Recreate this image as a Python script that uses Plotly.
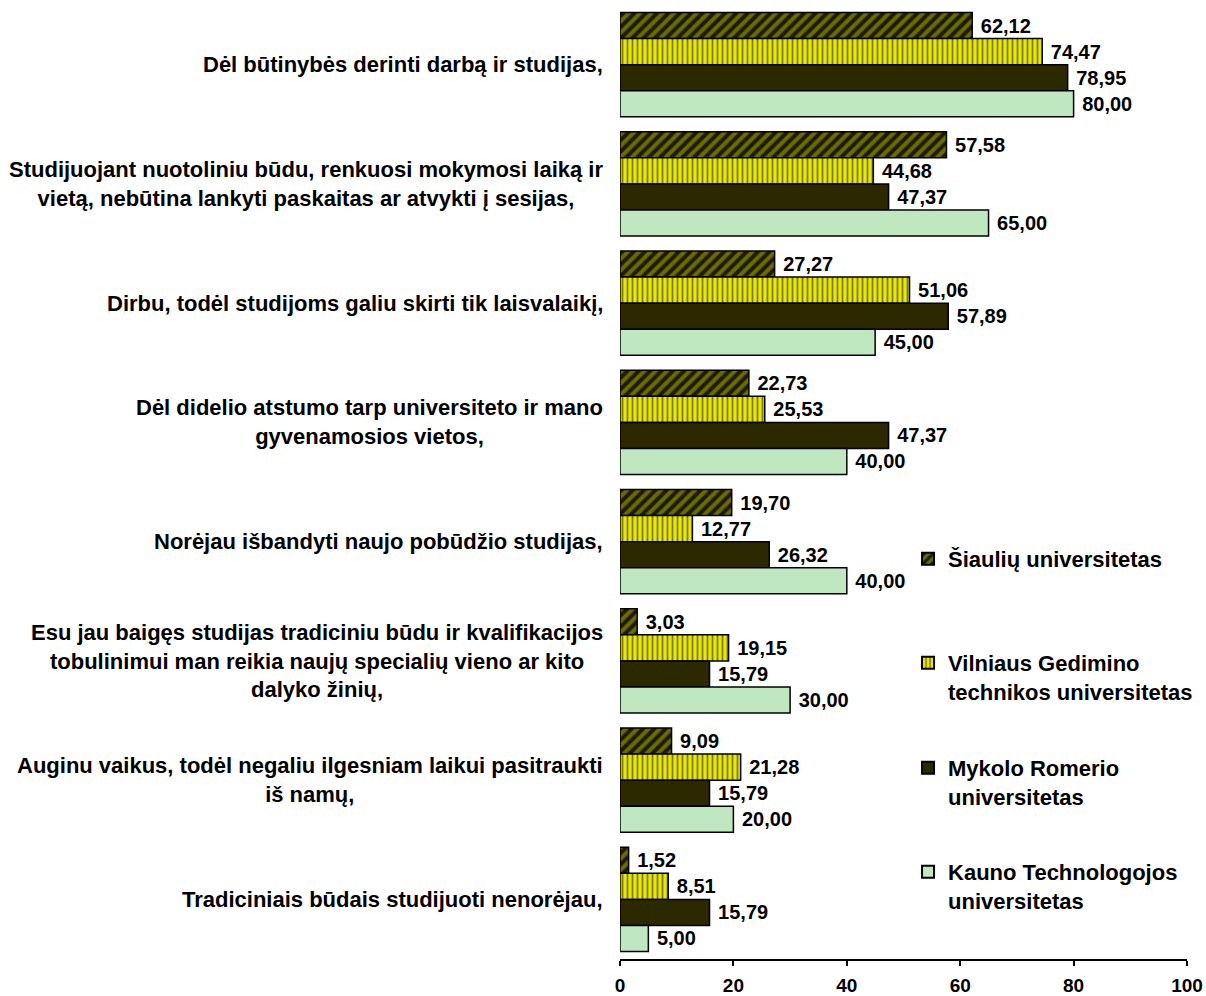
import plotly.graph_objects as go

# Reasons for choosing distance studies, by university (%)
categories = [
    "Dėl būtinybės derinti darbą ir studijas,",
    "Studijuojant nuotoliniu būdu, renkuosi mokymosi laiką ir<br>vietą, nebūtina lankyti paskaitas ar atvykti į sesijas,",
    "Dirbu, todėl studijoms galiu skirti tik laisvalaikį,",
    "Dėl didelio atstumo tarp universiteto ir mano<br>gyvenamosios vietos,",
    "Norėjau išbandyti naujo pobūdžio studijas,",
    "Esu jau baigęs studijas tradiciniu būdu ir kvalifikacijos<br>tobulinimui man reikia naujų specialių vieno ar kito<br>dalyko žinių,",
    "Auginu vaikus, todėl negaliu ilgesniam laikui pasitraukti<br>iš namų,",
    "Tradiciniais būdais studijuoti nenorėjau,",
]

siauliai = [62.12, 57.58, 27.27, 22.73, 19.70, 3.03, 9.09, 1.52]
vgtu = [74.47, 44.68, 51.06, 25.53, 12.77, 19.15, 21.28, 8.51]
mru = [78.95, 47.37, 57.89, 47.37, 26.32, 15.79, 15.79, 15.79]
ktu = [80.00, 65.00, 45.00, 40.00, 40.00, 30.00, 20.00, 5.00]

series_names = [
    "Šiaulių universitetas",
    "Vilniaus Gedimino<br>technikos universitetas",
    "Mykolo Romerio<br>universitetas",
    "Kauno Technologojos<br>universitetas",
]

x_ticks = [0, 20, 40, 60, 80, 100]

FONT = "Liberation Sans, Arial, sans-serif"
W, H = 1206, 996
M_L, M_R, M_T, M_B = 620, 19, 5, 37
PLOT_H = H - M_T - M_B


def fmt(v):
    return " " + f"{v:.2f}".replace(".", ",")


styles = [
    dict(color="#6b6b00",
         pattern=dict(shape="/", fgcolor="#1c1c00", bgcolor="#6b6b00", size=8, solidity=0.5, fillmode="replace")),
    dict(color="#e8e800",
         pattern=dict(shape="|", fgcolor="#7a7a00", bgcolor="#e8e800", size=5, solidity=0.35, fillmode="replace")),
    dict(color="#2c2800"),
    dict(color="#c0e8c0"),
]

fig = go.Figure()
series = [siauliai, vgtu, mru, ktu]
legend_ids = ["legend", "legend2", "legend3", "legend4"]
for vals, name, st, lg in zip(series, series_names, styles, legend_ids):
    fig.add_trace(go.Bar(
        y=categories, x=vals, orientation="h", name=name,
        marker=dict(line=dict(color="black", width=1.5), **st),
        text=[fmt(v) for v in vals], textposition="outside",
        textfont=dict(family=FONT, size=20, color="black", weight="bold"),
        constraintext="none", cliponaxis=False,
        legend=lg, showlegend=True,
    ))

# Category labels: centred text block, right edge just left of the axis
annotations = []
for cat in categories:
    annotations.append(dict(
        xref="paper", yref="y", x=0, y=cat, xanchor="right", yanchor="middle",
        xshift=-15, text=cat, showarrow=False, align="center",
        font=dict(family=FONT, size=22, color="black", weight="bold"),
    ))


def py_to_paper(py):
    return (H - M_B - py) / PLOT_H


legend_tops = [538, 642, 747, 851]
legend_common = dict(
    x=0.508, xanchor="left", yanchor="top",
    font=dict(family=FONT, size=22, color="black", weight="bold"),
    bgcolor="rgba(0,0,0,0)", valign="top", itemsizing="constant",
)
layout_legends = {}
for lg, top in zip(legend_ids, legend_tops):
    layout_legends[lg] = dict(y=py_to_paper(top), **legend_common)

fig.update_layout(
    width=W, height=H,
    margin=dict(l=M_L, r=M_R, t=M_T, b=M_B, autoexpand=False),
    paper_bgcolor="white", plot_bgcolor="white",
    barmode="group", bargap=0.126, bargroupgap=0,
    font=dict(family=FONT, color="black"),
    annotations=annotations,
    xaxis=dict(
        range=[0, 100], tickvals=x_ticks, automargin=False,
        showgrid=False, zeroline=False, showline=True, linecolor="black", linewidth=1.5,
        ticks="outside", ticklen=5, tickcolor="black", tickwidth=1.5,
        ticklabelstandoff=3,
        tickfont=dict(family=FONT, size=19, color="black", weight="bold"),
    ),
    yaxis=dict(
        autorange="reversed", showticklabels=False, showgrid=False, automargin=False,
        zeroline=False, showline=False, ticks="",
    ),
    **layout_legends,
)

fig.write_html("out.html")
